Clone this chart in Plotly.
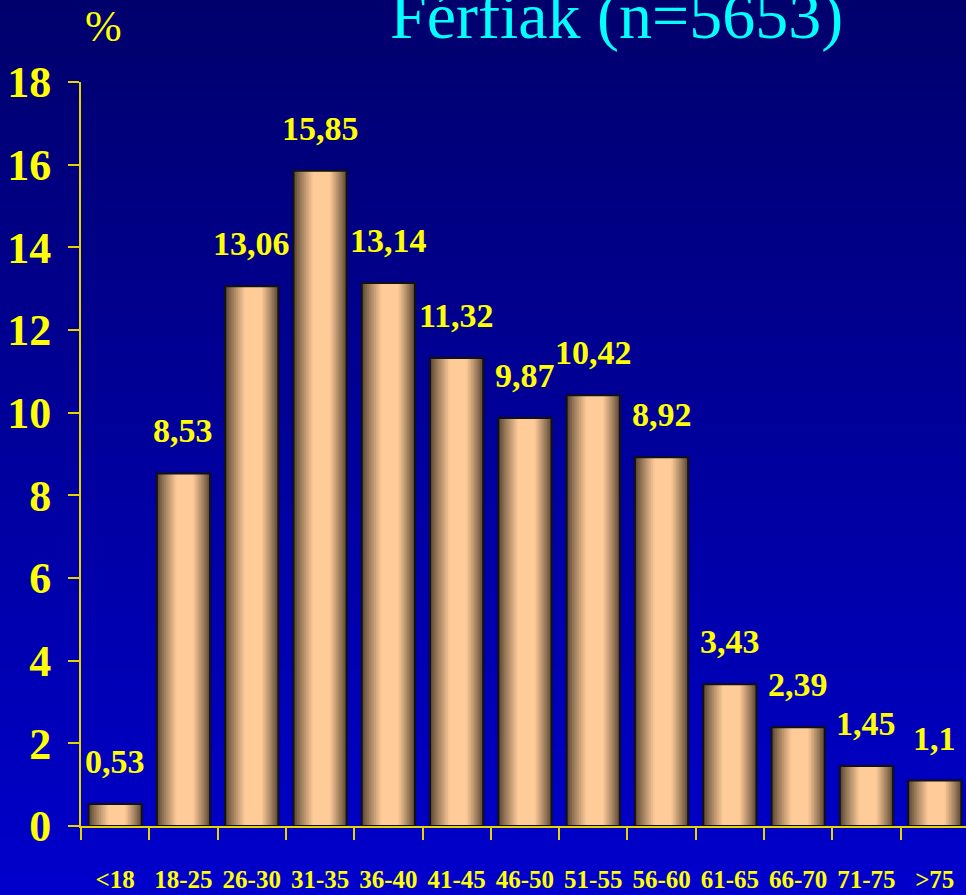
import plotly.graph_objects as go

# ---- data ----
categories = ["<18", "18-25", "26-30", "31-35", "36-40", "41-45", "46-50",
              "51-55", "56-60", "61-65", "66-70", "71-75", ">75"]
values = [0.53, 8.53, 13.06, 15.85, 13.14, 11.32, 9.87, 10.42, 8.92, 3.43, 2.39, 1.45, 1.1]
y_ticks = [0, 2, 4, 6, 8, 10, 12, 14, 16, 18]
title_text = "Férfiak (n=5653)"
unit_text = "%"

# ---- style ----
W, H = 966, 895
ML, MR, MT, MB = 81, 0, 82, 69
PW, PH = W - ML - MR, H - MT - MB
FONT = "Liberation Serif, Times New Roman, serif"
YELLOW = "#FFFF00"
AXIS = "#E6D400"


def lerp(c1, c2, t):
    return tuple(int(round(a + (b - a) * t)) for a, b in zip(c1, c2))


def rgb(c):
    return "rgb(%d,%d,%d)" % c


fig = go.Figure()

# cylindrical shading through stacked overlaid bars
dark = (92, 72, 52)
light = (255, 204, 153)
BW = 0.78
N = 16
for i in range(N):
    r = 1 - i / N
    t = min(1.0, (1 - r) * 1.5) ** 0.9
    w = BW * r
    shift = 0.03 * (1 - r)
    fig.add_trace(go.Bar(
        x=categories, y=values,
        width=w, offset=-w / 2 + shift,
        marker=dict(color=rgb(lerp(dark, light, t)), line=dict(width=0)),
        hoverinfo="skip", showlegend=False,
    ))
# outline
fig.add_trace(go.Bar(
    x=categories, y=values, width=BW, offset=-BW / 2,
    marker=dict(color="rgba(0,0,0,0)", line=dict(color="#111111", width=2)),
    showlegend=False,
))

# value labels
for c, v in zip(categories, values):
    fig.add_annotation(
        x=c, y=v, text=str(v).replace(".", ","), showarrow=False,
        yanchor="bottom", yshift=22,
        font=dict(family=FONT, size=34, color=YELLOW, weight="bold"),
    )

# gradient background stripes
NS = 80
top_c = (0, 0, 108)
bot_c = (0, 0, 204)
for k in range(NS):
    y0 = k / NS
    y1 = (k + 1) / NS
    col = lerp(top_c, bot_c, (k + 0.5) / NS)
    fig.add_shape(
        type="rect", xref="paper", yref="paper",
        x0=-ML / PW, x1=1 + 0.01,
        y0=1 + MT / PH - y1 * H / PH, y1=1 + MT / PH - y0 * H / PH + 0.002,
        fillcolor=rgb(col), line=dict(width=0), layer="below",
    )

fig.add_annotation(
    xref="paper", yref="paper", x=(616 - ML) / PW, y=(H - MB - 16) / PH,
    text=title_text, showarrow=False, xanchor="center", yanchor="middle",
    font=dict(family=FONT, size=66, color="#00FFFF"),
)
fig.add_annotation(
    xref="paper", yref="paper", x=(103 - ML) / PW, y=(H - MB - 27) / PH,
    text=unit_text, showarrow=False, xanchor="center", yanchor="middle",
    font=dict(family=FONT, size=44, color=YELLOW),
)

cat_w = 68.3
fig.update_layout(
    width=W, height=H, autosize=False,
    margin=dict(l=ML, r=MR, t=MT, b=MB, pad=0),
    barmode="overlay",
    paper_bgcolor="#00009A",
    plot_bgcolor="rgba(0,0,0,0)",
    xaxis=dict(
        type="category", tickson="boundaries",
        range=[-0.5, -0.5 + PW / cat_w],
        showline=True, linecolor=AXIS, linewidth=2,
        ticks="outside", ticklen=12, tickwidth=2, tickcolor=AXIS,
        tickfont=dict(family=FONT, size=25, color=YELLOW, weight="bold"),
        tickangle=0, automargin=False,
        ticklabelstandoff=30,
        showgrid=False, zeroline=False, fixedrange=True,
    ),
    yaxis=dict(
        range=[0, 18], tickvals=y_ticks,
        showline=True, linecolor=AXIS, linewidth=2,
        ticks="outside", ticklen=11, tickwidth=2, tickcolor=AXIS,
        tickfont=dict(family=FONT, size=44, color=YELLOW, weight="bold"),
        ticklabelstandoff=8, automargin=False,
        showgrid=False, zeroline=False, fixedrange=True,
    ),
)

fig.write_html("out.html", config={"displayModeBar": False},
               post_script="document.body.style.margin='0';")
